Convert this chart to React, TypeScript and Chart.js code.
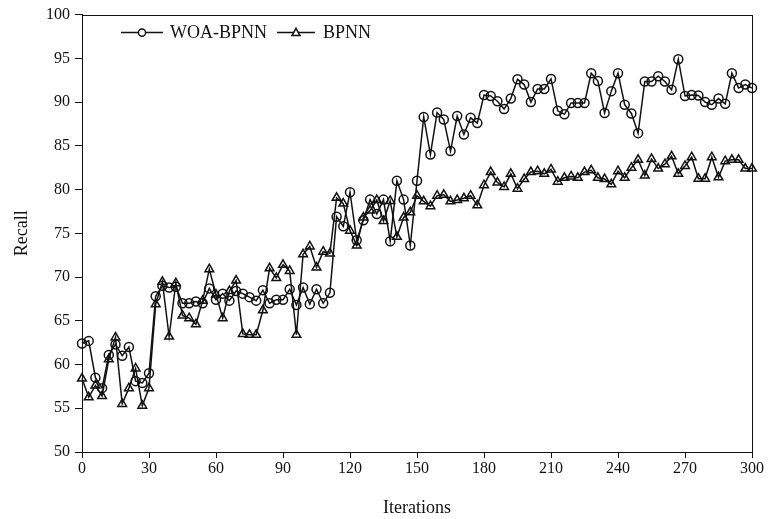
import React, { useEffect, useRef } from "react";
import { Chart, registerables } from "chart.js";

Chart.register(...registerables);

const ITERATIONS = [
  0, 3, 6, 9, 12, 15, 18, 21, 24, 27, 30, 33, 36, 39, 42, 45, 48, 51, 54, 57,
  60, 63, 66, 69, 72, 75, 78, 81, 84, 87, 90, 93, 96, 99, 102, 105, 108, 111, 114, 117,
  120, 123, 126, 129, 132, 135, 138, 141, 144, 147, 150, 153, 156, 159, 162, 165, 168, 171, 174, 177,
  180, 183, 186, 189, 192, 195, 198, 201, 204, 207, 210, 213, 216, 219, 222, 225, 228, 231, 234, 237,
  240, 243, 246, 249, 252, 255, 258, 261, 264, 267, 270, 273, 276, 279, 282, 285, 288, 291, 294, 297,
  300,
];

const WOA_BPNN = [
  62.4, 62.7, 58.5, 57.3, 61.1, 62.3, 61.0, 62.0, 58.1, 57.9,
  59.0, 67.8, 69.0, 68.8, 68.9, 67.0, 67.0, 67.2, 67.0, 68.7,
  67.4, 68.1, 67.3, 68.4, 68.1, 67.7, 67.3, 68.5, 67.0, 67.4,
  67.4, 68.6, 66.8, 68.8, 66.9, 68.6, 67.0, 68.2, 76.9, 75.8,
  79.7, 74.2, 76.5, 78.85, 77.2, 78.85, 74.1, 81.0, 78.85, 73.6,
  81.0, 88.3, 84.0, 88.8, 88.0, 84.4, 88.4, 86.3, 88.2, 87.6,
  90.8, 90.7, 90.1, 89.2, 90.4, 92.6, 92.0, 90.0, 91.5, 91.5,
  92.65, 89.0, 88.6, 89.9, 89.9, 89.9, 93.3, 92.4, 88.75, 91.25,
  93.3, 89.7, 88.7, 86.45, 92.35, 92.35, 92.95, 92.35, 91.4, 94.9,
  90.7, 90.8, 90.75, 90.0, 89.7, 90.4, 89.8, 93.3, 91.6, 92.0,
  91.6,
];

const BPNN = [
  58.4, 56.25, 57.6, 56.4, 60.6, 63.1, 55.5, 57.3, 59.55, 55.3,
  57.3, 66.9, 69.45, 63.2, 69.3, 65.6, 65.3, 64.6, 67.3, 70.9,
  68.0, 65.3, 68.4, 69.6, 63.5, 63.4, 63.4, 66.2, 71.0, 69.9,
  71.4, 70.7, 63.4, 72.6, 73.5, 71.1, 72.9, 72.7, 79.05, 78.4,
  75.3, 73.6, 76.8, 77.6, 78.8, 76.4, 78.7, 74.6, 76.8, 77.4,
  79.3, 78.65, 78.1, 79.3, 79.4, 78.65, 78.8, 79.0, 79.3, 78.2,
  80.5, 82.0, 80.8, 80.3, 81.8, 80.1, 81.2, 82.0, 82.1, 81.8,
  82.3, 80.9, 81.35, 81.5, 81.35, 82.0, 82.2, 81.35, 81.2, 80.6,
  82.1, 81.35, 82.5, 83.4, 81.6, 83.5, 82.4, 82.9, 83.8, 81.8,
  82.7, 83.7, 81.25, 81.25, 83.7, 81.4, 83.25, 83.4, 83.4, 82.4,
  82.4,
];

const SERIES_NAMES = ["WOA-BPNN", "BPNN"];
const X_TITLE = "Iterations";
const Y_TITLE = "Recall";

const FONT = '"Liberation Serif", "Times New Roman", serif';
const INK = "#111";

const framePlugin = {
  id: "frameAndLegend",
  afterDraw(chart: any) {
    const { ctx, chartArea } = chart;
    ctx.save();
    ctx.strokeStyle = INK;
    ctx.lineWidth = 1;
    ctx.strokeRect(
      Math.round(chartArea.left) + 0.5,
      Math.round(chartArea.top) + 0.5,
      Math.round(chartArea.right - chartArea.left),
      Math.round(chartArea.bottom - chartArea.top)
    );

    // legend
    const ly = chartArea.top + 18;
    const items = [
      { x0: chartArea.left + 39, x1: chartArea.left + 81, style: "circle", text: SERIES_NAMES[0], tx: chartArea.left + 88 },
      { x0: chartArea.left + 195, x1: chartArea.left + 233, style: "triangle", text: SERIES_NAMES[1], tx: chartArea.left + 241 },
    ];
    ctx.lineWidth = 1.5;
    ctx.font = "18px " + FONT;
    ctx.fillStyle = INK;
    ctx.textBaseline = "middle";
    ctx.textAlign = "left";
    for (const it of items) {
      ctx.beginPath();
      ctx.moveTo(it.x0, ly);
      ctx.lineTo(it.x1, ly);
      ctx.stroke();
      const cx = (it.x0 + it.x1) / 2;
      ctx.beginPath();
      if (it.style === "circle") {
        ctx.arc(cx, ly, 3.6, 0, Math.PI * 2);
      } else {
        ctx.moveTo(cx, ly - 4.2);
        ctx.lineTo(cx + 4, ly + 3);
        ctx.lineTo(cx - 4, ly + 3);
        ctx.closePath();
      }
      ctx.fillStyle = "#fff";
      ctx.fill();
      ctx.stroke();
      ctx.fillStyle = INK;
      ctx.fillText(it.text, it.tx, ly + 1);
    }
    ctx.restore();
  },
};

export default function App() {
  const canvasRef = useRef<HTMLCanvasElement | null>(null);

  useEffect(() => {
    document.body.style.margin = "0";
    const canvas = canvasRef.current;
    if (!canvas) return;

    const toPoints = (vals: number[]) => ITERATIONS.map((x, i) => ({ x, y: vals[i] }));

    const common = {
      borderColor: INK,
      borderWidth: 1.5,
      pointBorderColor: INK,
      pointBackgroundColor: "rgba(255,255,255,0)",
      pointBorderWidth: 1.5,
      pointRadius: 4.5,
      tension: 0,
      clip: false as any,
      fill: false,
    };

    const chart = new Chart(canvas, {
      type: "line",
      data: {
        datasets: [
          { ...common, label: SERIES_NAMES[0], data: toPoints(WOA_BPNN), pointStyle: "circle" },
          { ...common, label: SERIES_NAMES[1], data: toPoints(BPNN), pointStyle: "triangle", pointRadius: 5 },
        ],
      },
      options: {
        responsive: false,
        animation: false,
        devicePixelRatio: 1,
        layout: { padding: { left: 0, top: 14, right: 22, bottom: 0 } },
        plugins: {
          legend: { display: false },
          tooltip: { enabled: false },
        },
        scales: {
          x: {
            type: "linear",
            min: 0,
            max: 300,
            afterFit: (s: any) => {
              s.height = 67;
            },
            ticks: {
              stepSize: 30,
              color: INK,
              font: { family: FONT, size: 16 },
              padding: 1,
              maxRotation: 0,
            },
            grid: {
              display: true,
              drawOnChartArea: false,
              drawTicks: true,
              tickLength: 6,
              color: INK,
            },
            border: { display: true, color: INK, width: 1 },
            title: {
              display: true,
              text: X_TITLE,
              color: INK,
              font: { family: FONT, size: 18 },
              padding: { top: 0, bottom: 0 },
            },
          },
          y: {
            type: "linear",
            min: 50,
            max: 100,
            afterFit: (s: any) => {
              s.width = 82;
            },
            ticks: {
              stepSize: 5,
              color: INK,
              font: { family: FONT, size: 16 },
              padding: 5,
            },
            grid: {
              display: true,
              drawOnChartArea: false,
              drawTicks: true,
              tickLength: 7,
              color: INK,
            },
            border: { display: true, color: INK, width: 1 },
            title: {
              display: true,
              text: Y_TITLE,
              color: INK,
              font: { family: FONT, size: 18 },
              padding: { top: 11, bottom: 0 },
            },
          },
        },
      },
      plugins: [framePlugin],
    });

    return () => {
      chart.destroy();
    };
  }, []);

  return (
    <div style={{ width: 774, height: 519, background: "#fff" }}>
      <canvas ref={canvasRef} width={774} height={519} style={{ display: "block" }} />
    </div>
  );
}
